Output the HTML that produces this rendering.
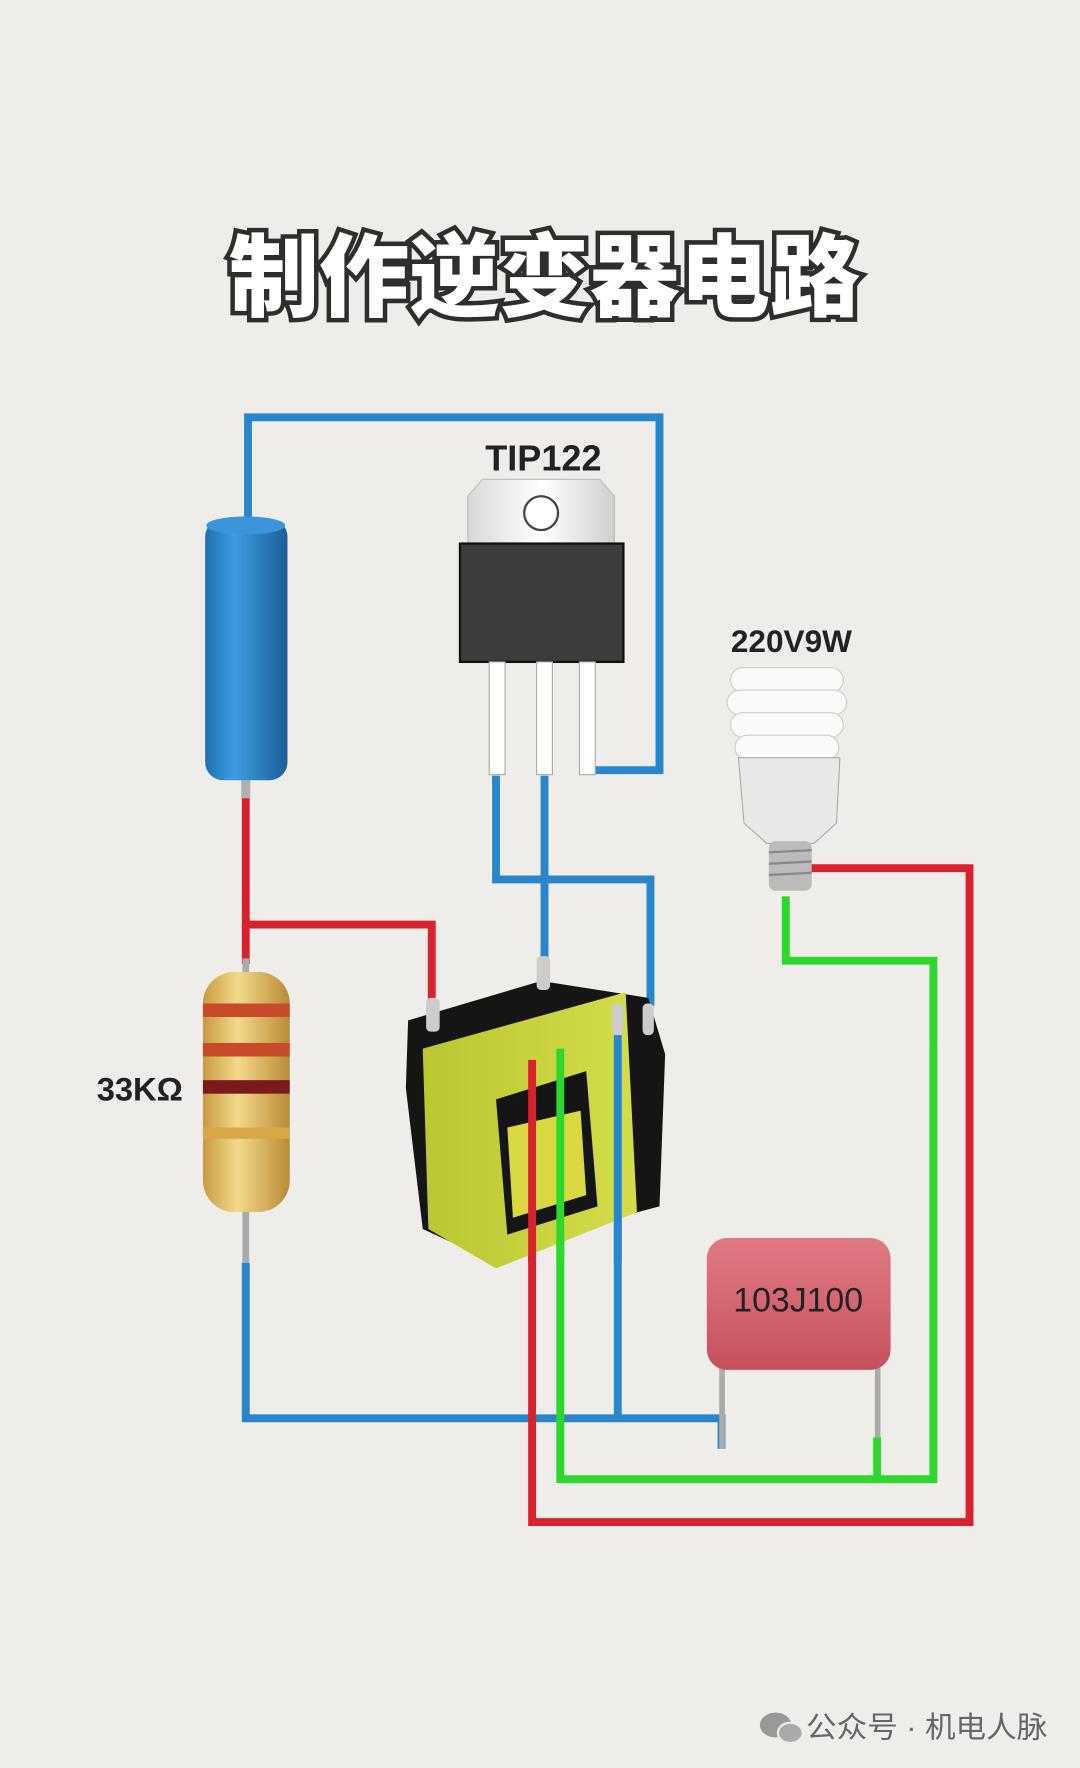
<!DOCTYPE html>
<html><head><meta charset="utf-8"><style>
html,body{margin:0;padding:0;background:#efede9;}
svg{display:block}
</style></head><body>
<svg width="1080" height="1768" viewBox="0 0 958 1568" xmlns="http://www.w3.org/2000/svg">
<defs>
<linearGradient id="bat" x1="0" x2="1"><stop offset="0" stop-color="#1f6fb0"/><stop offset="0.35" stop-color="#3d9de0"/><stop offset="1" stop-color="#1b5f9c"/></linearGradient>
<linearGradient id="res" x1="0" x2="1"><stop offset="0" stop-color="#c89a40"/><stop offset="0.4" stop-color="#f3d98a"/><stop offset="1" stop-color="#b98a36"/></linearGradient>
<linearGradient id="tab" x1="0" x2="1"><stop offset="0" stop-color="#d8d8d8"/><stop offset="0.5" stop-color="#ffffff"/><stop offset="1" stop-color="#cfcfcf"/></linearGradient>
<linearGradient id="cap" x1="0" y1="0" x2="0" y2="1"><stop offset="0" stop-color="#e07a86"/><stop offset="1" stop-color="#c8505e"/></linearGradient>
<linearGradient id="yel" x1="0" x2="1"><stop offset="0" stop-color="#b9c730"/><stop offset="1" stop-color="#d4dc4a"/></linearGradient>
</defs>
<rect width="958" height="1568" fill="#efede9"/>
<!-- title -->
<text x="483" y="274" text-anchor="middle" font-family="'Noto Sans CJK SC','WenQuanYi Zen Hei',sans-serif" font-weight="900" font-size="80" fill="#fff" stroke="#2e2e2e" stroke-width="8" paint-order="stroke" textLength="560" lengthAdjust="spacingAndGlyphs">制作逆变器电路</text>

<g fill="none" stroke-linejoin="miter" stroke-width="7">
<g stroke="#2a86cc">
<polyline points="220,462 220,370 585,370 585,683 522,683"/>
<polyline points="440,688 440,780 577,780 577,892"/>
<polyline points="483,688 483,852"/>
<polyline points="218,1120 218,1258 640,1258 640,1285"/>
<polyline points="548,915 548,1258"/>
</g>
<g stroke="#d8222e">
<polyline points="218,705 218,820 383,820 383,892"/>
<polyline points="218,820 218,855"/>
<polyline points="472,935 472,1350 860,1350 860,770 718,770"/>
</g>
<g stroke="#2bd82b">
<polyline points="497,928 497,1312 828,1312 828,852 697,852 697,795"/>
<polyline points="778,1275 778,1312"/>
</g>
</g>

<!-- battery -->
<rect x="214" y="690" width="8" height="18" fill="#b0b0b0"/>
<rect x="182" y="460" width="73" height="232" rx="16" fill="url(#bat)"/>
<ellipse cx="218" cy="466" rx="35" ry="8" fill="#3b95d8"/>

<!-- resistor -->
<rect x="215" y="1070" width="6" height="50" fill="#aaa"/>
<rect x="215" y="850" width="6" height="18" fill="#aaa"/>
<rect x="180" y="862" width="77" height="213" rx="28" fill="url(#res)"/>
<rect x="180" y="890" width="77" height="12" fill="#c84a2a"/>
<rect x="180" y="925" width="77" height="12" fill="#c84a2a"/>
<rect x="180" y="958" width="77" height="12" fill="#7a1a1a"/>
<rect x="180" y="1000" width="77" height="10" fill="#d8a848"/>
<text x="124" y="976" text-anchor="middle" font-family="'Liberation Sans',sans-serif" font-weight="bold" font-size="29" fill="#222">33KΩ</text>

<!-- TIP122 -->
<text x="482" y="417" text-anchor="middle" font-family="'Liberation Sans',sans-serif" font-weight="bold" font-size="32" fill="#222">TIP122</text>
<path d="M415,440 L428,425 L532,425 L545,440 L545,485 L415,485 Z" fill="url(#tab)" stroke="#bbb"/>
<circle cx="480" cy="455" r="15" fill="#fff" stroke="#444" stroke-width="2"/>
<rect x="408" y="482" width="145" height="105" fill="#3c3c3c" stroke="#111" stroke-width="2"/>
<rect x="434" y="587" width="14" height="100" fill="#fff" stroke="#aaa"/>
<rect x="476" y="587" width="14" height="100" fill="#fff" stroke="#aaa"/>
<rect x="514" y="587" width="14" height="100" fill="#fff" stroke="#aaa"/>

<!-- transformer -->
<path d="M362,905 L480,870 L575,885 L590,935 L585,1070 L470,1100 L440,1120 L375,1090 L360,965 Z" fill="#151515"/>
<path d="M375,930 L555,880 L565,1075 L440,1125 L380,1090 Z" fill="url(#yel)"/>
<path d="M440,975 L520,950 L530,1070 L450,1095 Z" fill="#151515"/>
<path d="M450,1000 L515,985 L520,1060 L455,1080 Z" fill="#d8d840"/>
<rect x="378" y="885" width="12" height="30" fill="#ccc" rx="4"/>
<rect x="476" y="848" width="12" height="30" fill="#ccc" rx="4"/>
<rect x="543" y="890" width="10" height="28" fill="#ccc" rx="4"/>
<rect x="570" y="890" width="10" height="28" fill="#ccc" rx="4"/>
<g fill="none" stroke-width="7">
<line x1="472" y1="940" x2="472" y2="1120" stroke="#d8222e"/>
<line x1="497" y1="930" x2="497" y2="1120" stroke="#2bd82b"/>
<line x1="548" y1="918" x2="548" y2="1120" stroke="#2a86cc"/>
</g>

<!-- bulb -->
<text x="702" y="578" text-anchor="middle" font-family="'Liberation Sans',sans-serif" font-weight="bold" font-size="28" fill="#222">220V9W</text>
<g fill="#fafafa" stroke="#ccc">
<rect x="648" y="592" width="100" height="22" rx="11"/>
<rect x="645" y="612" width="106" height="22" rx="11"/>
<rect x="648" y="632" width="100" height="22" rx="11"/>
<rect x="652" y="652" width="92" height="22" rx="11"/>
</g>
<path d="M655,672 L745,672 L742,730 L722,748 L680,748 L660,730 Z" fill="#e8e8e8" stroke="#aaa"/>
<rect x="682" y="746" width="38" height="44" rx="6" fill="#bbb"/>
<g stroke="#888" stroke-width="2"><line x1="682" y1="756" x2="720" y2="754"/><line x1="682" y1="766" x2="720" y2="764"/><line x1="682" y1="776" x2="720" y2="774"/></g>

<!-- capacitor -->
<rect x="638" y="1210" width="5" height="75" fill="#aaa"/>
<rect x="776" y="1210" width="5" height="65" fill="#aaa"/>
<rect x="627" y="1098" width="163" height="117" rx="18" fill="url(#cap)"/>
<text x="708" y="1163" text-anchor="middle" font-family="'Liberation Sans',sans-serif" font-size="30" fill="#222">103J100</text>

<!-- footer -->
<ellipse cx="688" cy="1530" rx="14" ry="11" fill="#999"/>
<ellipse cx="701" cy="1537" rx="11" ry="9" fill="#aaa" stroke="#efede9" stroke-width="2"/>
<text x="715" y="1541" font-family="'Liberation Sans','Noto Sans CJK SC',sans-serif" font-size="26" fill="#666" textLength="214" lengthAdjust="spacingAndGlyphs">公众号 · 机电人脉</text>
</svg>
</body></html>
